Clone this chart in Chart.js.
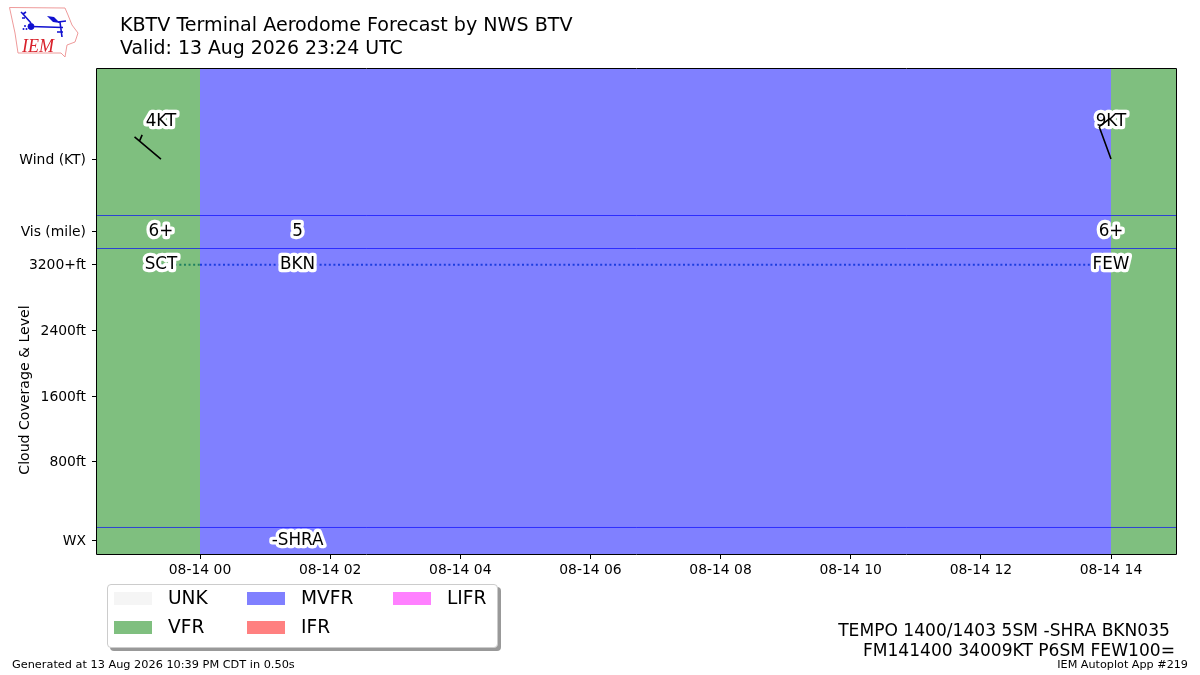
<!DOCTYPE html>
<html>
<head>
<meta charset="utf-8">
<title>KBTV TAF</title>
<script src="https://cdn.jsdelivr.net/npm/chart.js@4"></script>
<style>
html, body { margin: 0; padding: 0; background: #fff; }
body { width: 1200px; height: 675px; position: relative; overflow: hidden; font-family: "DejaVu Sans", sans-serif; color: #000; }
#chart { position: absolute; left: 0; top: 0; }
.txt { position: absolute; white-space: pre; line-height: 1; }
#logo { position: absolute; left: 0; top: 0; }
#legend { position: absolute; left: 107px; top: 584px; width: 389px; height: 62px; border: 1px solid #ccc; border-radius: 4px; background: #fff; box-shadow: 3px 3px 0 #999; }
.swatch { position: absolute; width: 38px; height: 13px; }
.ltext { position: absolute; font-size: 18.6px; line-height: 1; white-space: pre; }
</style>
</head>
<body>
<canvas id="chart" width="1200" height="675"></canvas>

<svg id="logo" width="90" height="65" viewBox="0 0 90 65">
  <path d="M9.5 7.5 L65 8 L68 15 L72 25 L78 33 L75 42 L67 45 L65 57 L61 53 L18 53 L15 33 Z" fill="#fff" stroke="#ee9a9a" stroke-width="1"/>
  <g stroke="#1010d0" fill="#1010d0">
    <circle cx="31" cy="26.5" r="3"/>
    <path d="M31 26.5 L63 27.5 M31 23 L23 14 M23 14 L21 12 M23 14 L26 12 M25 18 L22 18 M58 22 L66 21 M60 22 L62 37 M57 32 L63 32" fill="none" stroke-width="1.6"/>
    <path d="M47 16 L54 17 L60 23 L53 22 Z" stroke="none"/>
    <circle cx="23.5" cy="29" r="1" stroke="none"/><circle cx="26.5" cy="29" r="1" stroke="none"/><circle cx="25" cy="26" r="1" stroke="none"/>
  </g>
  <text x="22" y="52" font-family="Liberation Serif" font-style="italic" font-size="19" textLength="32" lengthAdjust="spacingAndGlyphs" fill="#d8202a">IEM</text>
</svg>

<div class="txt" id="title1" style="left:120px;top:15px;font-size:19.1px">KBTV Terminal Aerodome Forecast by NWS BTV</div>
<div class="txt" id="title2" style="left:120px;top:38px;font-size:18.9px">Valid: 13 Aug 2026 23:24 UTC</div>

<div id="legend"></div>

<div class="txt" style="right:30px;top:622px;font-size:17.1px">TEMPO 1400/1403 5SM -SHRA BKN035</div>
<div class="txt" style="right:25px;top:642px;font-size:17.1px">FM141400 34009KT P6SM FEW100=</div>
<div class="txt" style="left:12px;top:659px;font-size:11.3px">Generated at 13 Aug 2026 10:39 PM CDT in 0.50s</div>
<div class="txt" style="right:12px;top:659px;font-size:11.2px">IEM Autoplot App #219</div>

<script>
// hours relative to 08-14 00 UTC
var xStart = -1.58288;
var xEnd = 14.9989;
var xTicks = [0, 2, 4, 6, 8, 10, 12, 14];
var xTickLabels = ['08-14 00', '08-14 02', '08-14 04', '08-14 06', '08-14 08', '08-14 10', '08-14 12', '08-14 14'];

var yMin = -323;
var yMax = 5583;
var yTicks = [4486, 3600, 3200, 2400, 1600, 800, -160];
var yTickLabels = ['Wind (KT)', 'Vis (mile)', '3200+ft', '2400ft', '1600ft', '800ft', 'WX'];
var rowLines = [3799, 3397, 0];

// flight category spans
var bandNames = ['VFR', 'MVFR', 'VFR'];
var bandStart = [-1.58288, 0, 14];
var bandEnd = [0, 14, 14.9989];

// forecast groups
var fcstTimes = [-0.6, 1.5, 14];
var windTimes = [-0.6, 14];
var windDir = [310, 340];
var windSpeed = [4, 9];
var windLabels = ['4KT', '9KT'];
var visLabels = ['6+', '5', '6+'];
var skyLabels = ['SCT', 'BKN', 'FEW'];
var skyLevels = [3200, 3200, 3200];
var wxTimes = [1.5];
var wxLabels = ['-SHRA'];

var legendNames = ['UNK', 'VFR', 'MVFR', 'IFR', 'LIFR'];
var legendColors = ['#f5f5f5', '#7fbf7f', '#8080ff', '#ff8080', '#ff80ff'];

var windRow = 4486, visRow = 3600, skyRow = 3200, wxRow = -160;

var colorOf = function(name){
	return legendColors[legendNames.indexOf(name)];
};

var legendBox = document.getElementById('legend');
var legendX = [6, 6, 139, 139, 285];
var legendY = [0, 1, 0, 1, 0];
legendNames.forEach(function(name, i){
	var sw = document.createElement('div');
	sw.className = 'swatch';
	sw.style.left = legendX[i] + 'px';
	sw.style.top = (7 + legendY[i] * 29) + 'px';
	sw.style.background = legendColors[i];
	legendBox.appendChild(sw);
	var t = document.createElement('div');
	t.className = 'ltext';
	t.textContent = name;
	t.style.left = (legendX[i] + 54) + 'px';
	t.style.top = (4 + legendY[i] * 29) + 'px';
	legendBox.appendChild(t);
});

var datasets = [];
bandNames.forEach(function(name, i){
	datasets.push({
		data: [{x: bandStart[i], y: yMax}, {x: bandEnd[i], y: yMax}],
		borderWidth: 0,
		pointRadius: 0,
		backgroundColor: colorOf(name),
		fill: 'start',
		order: 5
	});
});
rowLines.forEach(function(v){
	datasets.push({
		data: [{x: xStart, y: v}, {x: xEnd, y: v}],
		borderColor: 'rgba(0,0,255,0.65)',
		borderWidth: 1,
		pointRadius: 0,
		fill: false,
		order: 2
	});
});
// dotted cloud line, first stretch sits on the VFR band
datasets.push({
	data: [{x: fcstTimes[0], y: skyLevels[0]}, {x: bandEnd[0], y: skyLevels[0]}],
	borderColor: '#1f8060',
	borderWidth: 2,
	borderDash: [2, 2.6],
	pointRadius: 0,
	fill: false,
	order: 1
});
datasets.push({
	data: [{x: bandEnd[0], y: skyLevels[0]}, {x: fcstTimes[1], y: skyLevels[1]}, {x: fcstTimes[2], y: skyLevels[2]}],
	borderColor: '#1c3ce0',
	borderWidth: 2,
	borderDash: [2, 2.6],
	pointRadius: 0,
	fill: false,
	order: 1
});

var haloText = function(ctx, text, x, y){
	ctx.font = '16.8px "DejaVu Sans"';
	ctx.textAlign = 'center';
	ctx.textBaseline = 'middle';
	ctx.lineJoin = 'round';
	ctx.lineWidth = 6.5;
	ctx.strokeStyle = '#fff';
	ctx.strokeText(text, x, y);
	ctx.fillStyle = '#000';
	ctx.fillText(text, x, y);
};

var drawBarb = function(ctx, x, y, dir, speed){
	var len = 34.5;
	var a = dir * Math.PI / 180;
	var ux = Math.sin(a), uy = -Math.cos(a);
	var px = Math.cos(a), py = Math.sin(a);
	var ex = x + ux * len, ey = y + uy * len;
	ctx.strokeStyle = '#000';
	ctx.lineWidth = 1.6;
	ctx.beginPath();
	ctx.moveTo(x, y);
	ctx.lineTo(ex, ey);
	if(speed >= 8){
		ctx.moveTo(ex, ey);
		ctx.lineTo(ex + px * 13 + ux * 4, ey + py * 13 + uy * 4);
	}
	else {
		var bx = ex - ux * 6.5, by = ey - uy * 6.5;
		ctx.moveTo(bx, by);
		ctx.lineTo(bx + px * 6.5 + ux * 2, by + py * 6.5 + uy * 2);
	}
	ctx.stroke();
};

var annotations = {
	id: 'annotations',
	afterDatasetsDraw: function(chart){
		var ctx = chart.ctx, sx = chart.scales.x, sy = chart.scales.y, area = chart.chartArea;
		ctx.save();
		windTimes.forEach(function(t, i){
			haloText(ctx, windLabels[i], sx.getPixelForValue(t), sy.getPixelForValue(windRow) - 37);
		});
		fcstTimes.forEach(function(t, i){
			haloText(ctx, visLabels[i], sx.getPixelForValue(t), sy.getPixelForValue(visRow) - 0.5);
			haloText(ctx, skyLabels[i], sx.getPixelForValue(t), sy.getPixelForValue(skyRow) - 0.5);
		});
		wxTimes.forEach(function(t, i){
			haloText(ctx, wxLabels[i], sx.getPixelForValue(t), sy.getPixelForValue(wxRow));
		});
		windTimes.forEach(function(t, i){
			drawBarb(ctx, sx.getPixelForValue(t), sy.getPixelForValue(windRow), windDir[i], windSpeed[i]);
		});
		ctx.strokeStyle = '#000';
		ctx.lineWidth = 1;
		ctx.strokeRect(area.left - 0.5, area.top - 0.5, area.right - area.left + 1, area.bottom - area.top + 1);

		ctx.translate(25, 390);
		ctx.rotate(-Math.PI / 2);
		ctx.font = '14.1px "DejaVu Sans"';
		ctx.textAlign = 'center';
		ctx.textBaseline = 'middle';
		ctx.fillStyle = '#000';
		ctx.fillText('Cloud Coverage & Level', 0, 0);
		ctx.restore();
	}
};

var chart = new Chart(document.getElementById('chart'), {
	type: 'line',
	data: {datasets: datasets},
	plugins: [annotations],
	options: {
		responsive: false,
		animation: false,
		layout: {padding: {top: 69, right: 24, left: 0, bottom: 0}},
		plugins: {legend: {display: false}, title: {display: false}, tooltip: {enabled: false}},
		scales: {
			x: {
				type: 'linear',
				min: xStart,
				max: xEnd,
				afterFit: function(scale){ scale.height = 121; },
				afterBuildTicks: function(scale){
					scale.ticks = xTicks.map(function(v){ return {value: v}; });
				},
				grid: {drawOnChartArea: false, color: '#000', tickLength: 5, tickColor: '#000'},
				border: {display: false},
				ticks: {
					color: '#000',
					font: {family: 'DejaVu Sans', size: 13.9},
					maxRotation: 0,
					autoSkip: false,
					padding: 3,
					callback: function(value){ return xTickLabels[xTicks.indexOf(value)]; }
				}
			},
			y: {
				type: 'linear',
				min: yMin,
				max: yMax,
				afterFit: function(scale){ scale.width = 97; },
				afterBuildTicks: function(scale){
					scale.ticks = yTicks.map(function(v){ return {value: v}; });
				},
				grid: {drawOnChartArea: false, color: '#000', tickLength: 5, tickColor: '#000'},
				border: {display: false},
				ticks: {
					color: '#000',
					font: {family: 'DejaVu Sans', size: 13.9},
					autoSkip: false,
					padding: 6,
					labelOffset: 1,
					callback: function(value){ return yTickLabels[yTicks.indexOf(value)]; }
				}
			}
		}
	}
});
</script>
</body>
</html>
